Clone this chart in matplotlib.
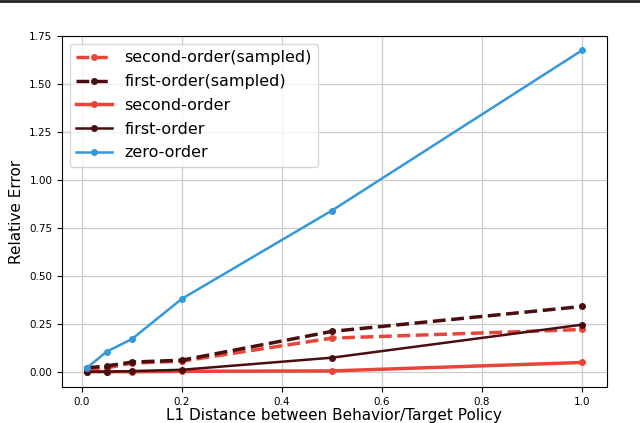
import matplotlib
matplotlib.use("Agg")
import matplotlib.pyplot as plt
from matplotlib.lines import Line2D

# L1 distance between behavior and target policy
dist = [0.01, 0.05, 0.1, 0.2, 0.5, 1.0]

# relative error for each estimator
second_sampled = [0.01, 0.02, 0.045, 0.055, 0.175, 0.22]
first_sampled = [0.02, 0.03, 0.05, 0.06, 0.21, 0.34]
second_order = [0.0, 0.0, 0.0, 0.002, 0.004, 0.048]
first_order = [0.0, 0.0, 0.003, 0.01, 0.073, 0.245]
zero_order = [0.02, 0.105, 0.17, 0.38, 0.84, 1.675]

red = '#e8453a'
dark = '#4b0e0e'
blue = '#3498db'

fig = plt.figure(figsize=(6.4, 4.23), dpi=100)
ax = fig.add_axes([0.097, 0.085, 0.851, 0.83])

ax.plot(dist, second_sampled, '--', color=red, lw=2.5, marker='o', ms=4, label='second-order(sampled)')
ax.plot(dist, first_sampled, '--', color=dark, lw=2.5, marker='o', ms=4, label='first-order(sampled)')
ax.plot(dist, second_order, '-', color=red, lw=2.5, marker='o', ms=4, label='second-order')
ax.plot(dist, first_order, '-', color=dark, lw=1.8, marker='o', ms=4, label='first-order')
ax.plot(dist, zero_order, '-', color=blue, lw=1.8, marker='o', ms=4, label='zero-order')

ax.set_ylim(-0.08, 1.75)
ax.set_xticks([0.0, 0.2, 0.4, 0.6, 0.8, 1.0])
ax.set_yticks([0.0, 0.25, 0.5, 0.75, 1.0, 1.25, 1.5, 1.75])
ax.tick_params(labelsize=7.5)
ax.grid(True, color='#cccccc', lw=0.9)
ax.set_axisbelow(True)

ax.set_xlabel('L1 Distance between Behavior/Target Policy', fontsize=11, labelpad=1)
ax.set_ylabel('Relative Error', fontsize=11)

ax.legend(loc='upper left', fontsize=11.5, handlelength=2.2, labelspacing=0.55,
          borderaxespad=0.5, framealpha=0.8)

# dark rule along the top edge
fig.add_artist(Line2D([0, 1], [0.997, 0.997], transform=fig.transFigure, color='#222222', lw=2))

fig.savefig('out.png', dpi=100)
